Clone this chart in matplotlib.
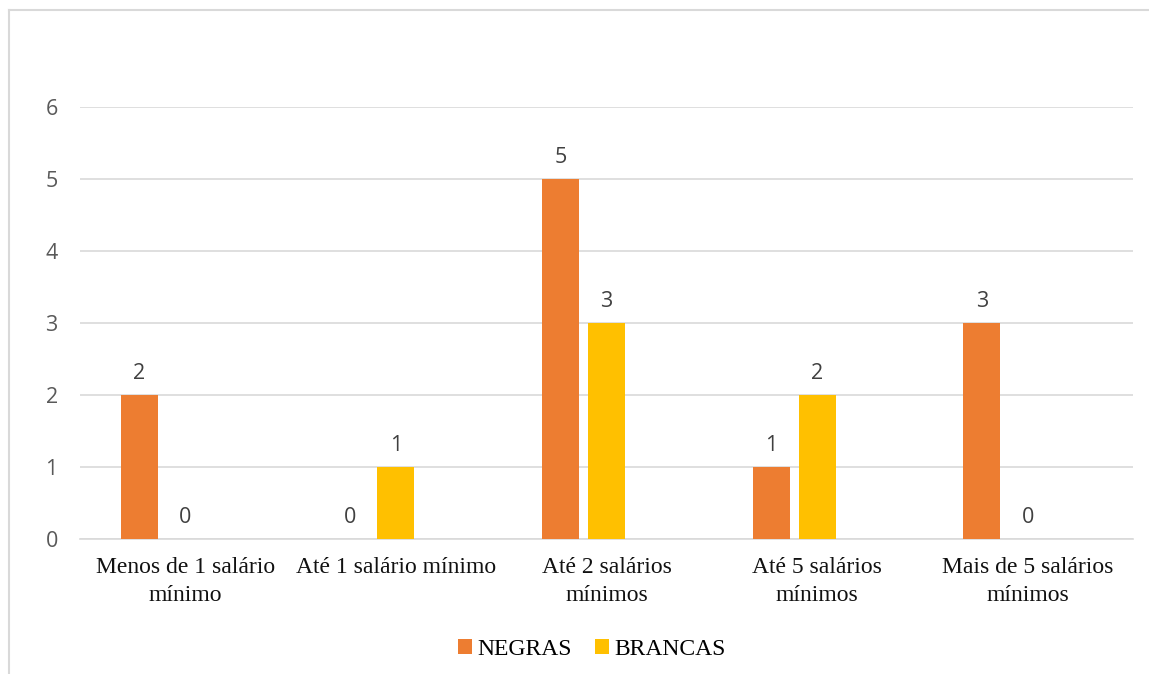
import numpy as np
import matplotlib.pyplot as plt
from matplotlib.lines import Line2D

categorias = ['Menos de 1 salário\nmínimo', 'Até 1 salário mínimo', 'Até 2 salários\nmínimos',
              'Até 5 salários\nmínimos', 'Mais de 5 salários\nmínimos']
negras = [2, 0, 5, 1, 3]
brancas = [0, 1, 3, 2, 0]
series = ['NEGRAS', 'BRANCAS']
cores = ['#ED7D31', '#FFC000']

fig = plt.figure(figsize=(11.49, 6.74), dpi=100)
ax = fig.add_axes([80 / 1149, 135 / 674, (1133 - 80) / 1149, (539 - 107) / 674])

x = np.arange(len(categorias))
largura = 0.176
passo = 0.218

for i, (vals, nome, cor) in enumerate(zip([negras, brancas], series, cores)):
    pos = x + (i - 1) * passo
    ax.bar(pos, vals, width=largura, color=cor, label=nome, zorder=3)
    for p, v in zip(pos, vals):
        ax.annotate(str(v), (p, v), xytext=(0, 8), textcoords='offset points',
                    ha='center', va='bottom', fontsize=15.5, color='#404040',
                    family='Open Sans')

ax.set_xlim(-0.5, len(categorias) - 0.5)
ax.set_ylim(0, 6)
ax.set_yticks(range(0, 7))
ax.yaxis.grid(True, color='#d9d9d9', linewidth=1.2, zorder=0)
for s in ['top', 'right', 'left']:
    ax.spines[s].set_visible(False)
ax.spines['bottom'].set_color('#d9d9d9')
ax.spines['bottom'].set_linewidth(1.2)
ax.tick_params(axis='both', length=0)
ax.tick_params(axis='y', pad=16, labelsize=15.5, labelcolor='#595959')
ax.tick_params(axis='x', pad=13)
ax.set_xticks(x)
ax.set_xticklabels(categorias, family='Liberation Serif', fontsize=17, color='#111111',
                   linespacing=1.45)
for lbl in ax.get_yticklabels():
    lbl.set_family('Open Sans')

ax.legend(loc='center', bbox_to_anchor=(0.486, -0.255), ncol=2, frameon=False,
          prop={'family': 'Liberation Serif', 'size': 17}, handlelength=0.6,
          handleheight=0.6, columnspacing=1.0, handletextpad=0.2)

# moldura do gráfico
fig.add_artist(Line2D([9 / 1149, 9 / 1149], [0, 1 - 10 / 674], color='#d9d9d9', lw=1.5))
fig.add_artist(Line2D([9 / 1149, 1], [1 - 10 / 674, 1 - 10 / 674], color='#d9d9d9', lw=1.5))

fig.savefig('out.png', dpi=100)
